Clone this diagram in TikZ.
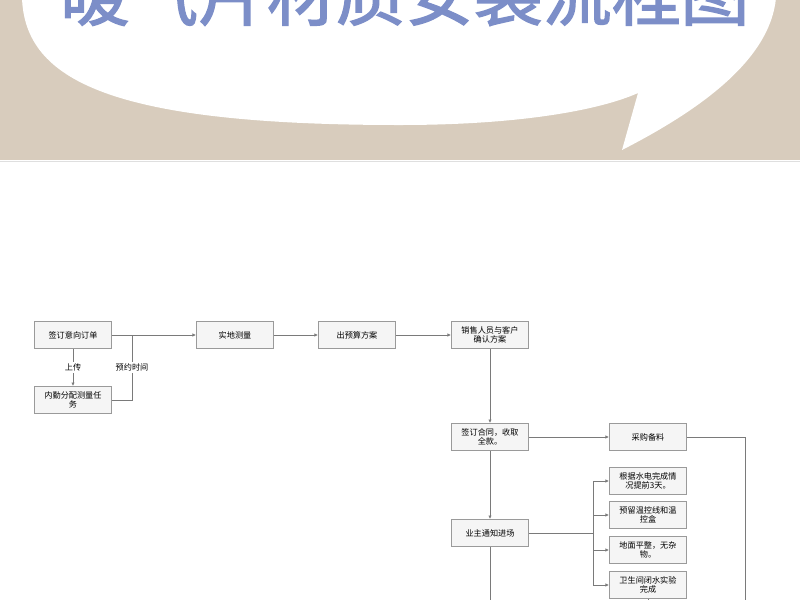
\documentclass[tikz,border=0pt]{standalone}
\usepackage{fontspec}
\usepackage{xcolor}
\usetikzlibrary{arrows.meta,shadows}
\newfontfamily\cjk{Noto Sans CJK SC}
\newfontfamily\cjktitle[FakeBold=2]{Noto Sans CJK SC}
\definecolor{beige}{HTML}{D8CCBD}
\definecolor{titleblue}{HTML}{7C8EC8}
\definecolor{boxline}{HTML}{9A9A9A}
\definecolor{boxfill}{HTML}{F5F5F5}
\definecolor{conn}{HTML}{7A7A7A}
\begin{document}
\begin{tikzpicture}[x=0.025cm,y=-0.025cm,
	stepbox/.style={draw=boxline,line width=0.7pt,fill=boxfill,minimum width=1.925cm,minimum height=0.675cm,
		inner sep=1pt,align=center,font=\cjk\fontsize{5.8}{6.6}\selectfont,
		drop shadow={shadow xshift=0.6pt,shadow yshift=-0.6pt,opacity=0.25}},
	ln/.style={draw=conn,line width=0.5pt},
	arr/.style={ln,-{Latex[length=2.5pt,width=2.5pt]}},
	lbl/.style={fill=white,inner sep=1pt,font=\cjk\fontsize{5.8}{6.6}\selectfont}]
	\useasboundingbox (0,0) rectangle (800,600);
	\clip (0,0) rectangle (800,600);
	% header band with speech bubble
	\fill[beige] (0,0) rectangle (800,160);
	\draw[gray!25,line width=0.6pt] (0,161) -- (800,161);
	\fill[white] (22,-2) .. controls (25,80) and (110,125) .. (400,125)
		.. controls (520,125) and (600,110) .. (638,93) -- (622,150)
		.. controls (700,110) and (770,60) .. (776,-2) -- cycle;
	\node[anchor=base,text=titleblue,font=\cjktitle\fontsize{49}{49}\selectfont] (title) at (405,20) {暖气片材质安装流程图};
	% first row
	\node[stepbox] (order) at (73,335) {签订意向订单};
	\node[stepbox] (task) at (73,400) {内勤分配测量任\\务};
	\node[stepbox] (measure) at (235,335) {实地测量};
	\node[stepbox] (budget) at (357,335) {出预算方案};
	\node[stepbox] (confirm) at (490,335) {销售人员与客户\\确认方案};
	% second column
	\node[stepbox] (contract) at (490,437) {签订合同，收取\\全款。};
	\node[stepbox] (purchase) at (648,437) {采购备料};
	\node[stepbox] (enter) at (490,533) {业主通知进场};
	\node[stepbox] (check1) at (648,481) {根据水电完成情\\况提前3天。};
	\node[stepbox] (check2) at (648,515) {预留温控线和温\\控盒};
	\node[stepbox] (check3) at (648,550) {地面平整，无杂\\物。};
	\node[stepbox] (check4) at (648,585) {卫生间闭水实验\\完成};
	% connectors
	\draw[arr] (order) -- (measure);
	\draw[arr] (order) -- node[lbl] {上传} (task);
	\coordinate (join) at (132,335);
	\draw[ln] (task.east) -| node[lbl,pos=0.75] {预约时间} (join);
	\draw[arr] (measure) -- (budget);
	\draw[arr] (budget) -- (confirm);
	\draw[arr] (confirm) -- (contract);
	\draw[arr] (contract) -- (purchase);
	\draw[arr] (contract) -- (enter);
	\coordinate (down1) at (745,600);
	\coordinate (down2) at (490,600);
	\coordinate (down3) at (648,600);
	\draw[ln] (purchase.east) -| (down1);
	\draw[ln] (enter.south) -- (down2);
	\draw[ln] (check4.south) -- (down3);
	\coordinate (split) at (593,533);
	\draw[ln] (enter.east) -- (split);
	\draw[ln] (split |- check1) -- (split |- check4);
	\foreach \c in {check1,check2,check3,check4}
	\draw[arr] (split |- \c) -- (\c);
\end{tikzpicture}
\end{document}
